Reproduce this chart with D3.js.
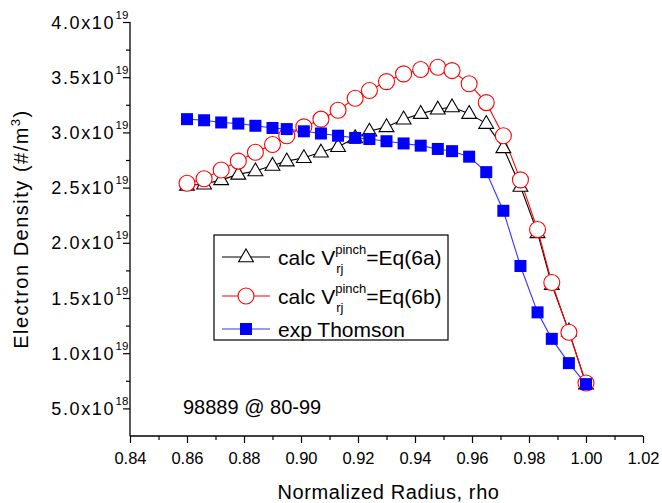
<!DOCTYPE html>
<html>
<head>
<meta charset="utf-8">
<script src="https://cdn.jsdelivr.net/npm/d3@7"></script>
<style>
  body { margin: 0; background: #fff; }
  text { font-family: "Liberation Sans", Arial, sans-serif; fill: #000; }
</style>
</head>
<body>
<div id="container"></div>
<script>
// rho grid shared by all three profiles
var rho = [0.860, 0.866, 0.872, 0.878, 0.884, 0.890, 0.895, 0.901, 0.907, 0.913,
           0.919, 0.924, 0.930, 0.936, 0.942, 0.948, 0.953, 0.959, 0.965, 0.971,
           0.977, 0.983, 0.988, 0.994, 1.000];

// densities in units of 1e19 /m^3
var calc6a = [2.52, 2.53, 2.57, 2.62, 2.65, 2.70, 2.74, 2.77, 2.82, 2.87,
              2.95, 3.01, 3.05, 3.12, 3.17, 3.21, 3.23, 3.17, 3.08, 2.86,
              2.51, 2.09, 1.62, 1.20, 0.72];
var calc6b = [2.54, 2.58, 2.66, 2.74, 2.82, 2.89, 2.97, 3.05, 3.12, 3.20,
              3.31, 3.38, 3.46, 3.53, 3.57, 3.59, 3.56, 3.44, 3.27, 2.97,
              2.57, 2.12, 1.64, 1.19, 0.73];
var expThomson = [3.12, 3.11, 3.09, 3.08, 3.06, 3.04, 3.03, 3.01, 2.99, 2.97,
                  2.95, 2.94, 2.92, 2.90, 2.88, 2.85, 2.83, 2.78, 2.64, 2.29,
                  1.79, 1.37, 1.13, 0.91, 0.72];

var xTicks = [0.84, 0.86, 0.88, 0.90, 0.92, 0.94, 0.96, 0.98, 1.00, 1.02];
var yTicks = [0.5, 1.0, 1.5, 2.0, 2.5, 3.0, 3.5, 4.0];
var yTickText = [["5.0x10", "18"], ["1.0x10", "19"], ["1.5x10", "19"], ["2.0x10", "19"],
                 ["2.5x10", "19"], ["3.0x10", "19"], ["3.5x10", "19"], ["4.0x10", "19"]];

var W = 662, H = 503;
var pLeft = 130, pRight = 643, pTop = 22, pBottom = 436;

var svg = d3.select("#container").append("svg")
  .attr("width", W).attr("height", H);

var x = d3.scaleLinear().domain([0.84, 1.02]).range([pLeft, pRight]);
var y = d3.scaleLinear().domain([0.25, 4.0]).range([pBottom, pTop]);

// axes
var xAxis = d3.axisBottom(x).tickValues(xTicks).tickFormat(d3.format(".2f"))
  .tickSize(7).tickPadding(9);
var xMinor = d3.axisBottom(x).tickValues(d3.range(0.85, 1.02, 0.02)).tickFormat("").tickSize(4);

var gx = svg.append("g").attr("transform", "translate(0," + pBottom + ")").call(xAxis);
svg.append("g").attr("transform", "translate(0," + pBottom + ")").call(xMinor);

var yAxis = d3.axisLeft(y).tickValues(yTicks).tickFormat("").tickSize(7);
var yMinor = d3.axisLeft(y).tickValues(d3.range(0.75, 4.0, 0.5)).tickFormat("").tickSize(4);
svg.append("g").attr("transform", "translate(" + pLeft + ",0)").call(yAxis);
svg.append("g").attr("transform", "translate(" + pLeft + ",0)").call(yMinor);

svg.selectAll(".domain").remove();
svg.selectAll(".tick line").attr("stroke", "#000").attr("stroke-width", 1.2);
gx.selectAll("text").style("font-size", "16.5px").attr("fill", "#000");

// plain axis lines (no end caps)
svg.append("line").attr("x1", pLeft).attr("x2", pRight).attr("y1", pBottom).attr("y2", pBottom)
  .attr("stroke", "#000").attr("stroke-width", 1.3);
svg.append("line").attr("x1", pLeft).attr("x2", pLeft).attr("y1", pTop).attr("y2", pBottom)
  .attr("stroke", "#000").attr("stroke-width", 1.3);

// y tick labels with superscript exponent
yTicks.forEach(function(v, i) {
  svg.append("text")
    .attr("x", 115).attr("y", y(v) + 6.5)
    .attr("text-anchor", "end")
    .style("font-size", "18px")
    .style("letter-spacing", "1.6px")
    .text(yTickText[i][0]);
  svg.append("text")
    .attr("x", 115.5).attr("y", y(v) - 3.5)
    .style("font-size", "11.5px")
    .text(yTickText[i][1]);
});

// axis titles
svg.append("text")
  .attr("x", (pLeft + pRight) / 2 + 2).attr("y", 499)
  .attr("text-anchor", "middle")
  .style("font-size", "20px")
  .style("letter-spacing", "0.6px")
  .text("Normalized Radius, rho");

var yt = svg.append("text")
  .attr("transform", "translate(28," + ((pTop + pBottom) / 2) + ") rotate(-90)")
  .attr("text-anchor", "middle")
  .style("font-size", "20px")
  .style("letter-spacing", "1.5px");
yt.append("tspan").text("Electron Density (#/m");
yt.append("tspan").attr("dy", -8).style("font-size", "13px").text("3");
yt.append("tspan").attr("dy", 8).text(")");

// series
var series = [
  {name: "a", vals: calc6a, line: "#000"},
  {name: "b", vals: calc6b, line: "#ff0000"},
  {name: "c", vals: expThomson, line: "#3333ff"}
];

var line = d3.line().x(function(d) { return x(d[0]); }).y(function(d) { return y(d[1]); });

series.forEach(function(s) {
  var pts = rho.map(function(r, i) { return [r, s.vals[i]]; });
  svg.append("path").datum(pts)
    .attr("d", line)
    .attr("fill", "none")
    .attr("stroke", s.line)
    .attr("stroke-width", 1.1);
});

var tri = d3.symbol().type(d3.symbolTriangle).size(95);

function drawMarker(g, type, cx, cy) {
  if (type === "a") {
    g.append("path").attr("d", tri)
      .attr("transform", "translate(" + cx + "," + (cy + 0.5) + ")")
      .attr("fill", "#fff").attr("stroke", "#000").attr("stroke-width", 1.1);
  } else if (type === "b") {
    g.append("circle").attr("cx", cx).attr("cy", cy).attr("r", 8)
      .attr("fill", "#fff").attr("stroke", "#ff0000").attr("stroke-width", 1.1);
  } else {
    g.append("rect").attr("x", cx - 6).attr("y", cy - 6).attr("width", 12).attr("height", 12)
      .attr("fill", "#0000ff");
  }
}

series.forEach(function(s) {
  var g = svg.append("g");
  rho.forEach(function(r, i) { drawMarker(g, s.name, x(r), y(s.vals[i])); });
});

// legend
var lg = svg.append("g");
lg.append("rect").attr("x", 214).attr("y", 235).attr("width", 234).attr("height", 105)
  .attr("fill", "#fff").attr("stroke", "#000").attr("stroke-width", 1.2);

var legendRows = [
  {name: "a", color: "#000", y: 257},
  {name: "b", color: "#ff0000", y: 296},
  {name: "c", color: "#3333ff", y: 329}
];
legendRows.forEach(function(r) {
  lg.append("line").attr("x1", 222).attr("x2", 270).attr("y1", r.y).attr("y2", r.y)
    .attr("stroke", r.color).attr("stroke-width", 1.1);
  drawMarker(lg, r.name, 246, r.y);
  if (r.name === "c") {
    lg.append("text").attr("x", 278).attr("y", r.y + 7.5).style("font-size", "21px").text("exp Thomson");
  } else {
    var t1 = lg.append("text").attr("x", 278).attr("y", r.y + 7.5).style("font-size", "21px").text("calc V");
    var x1 = 278 + t1.node().getComputedTextLength();
    var sup = lg.append("text").attr("x", x1).attr("y", r.y - 3).style("font-size", "13px").text("pinch");
    lg.append("text").attr("x", x1 + 1).attr("y", r.y + 16).style("font-size", "13px").text("rj");
    var x2 = x1 + sup.node().getComputedTextLength();
    lg.append("text").attr("x", x2).attr("y", r.y + 7.5).style("font-size", "21px")
      .text(r.name === "a" ? "=Eq(6a)" : "=Eq(6b)");
  }
});

// annotation
svg.append("text").attr("x", 183).attr("y", 414).style("font-size", "20px").text("98889 @ 80-99");
</script>
</body>
</html>
